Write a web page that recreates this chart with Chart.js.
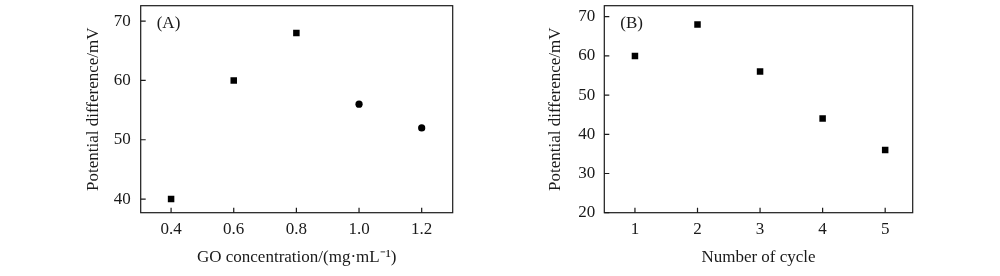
<!DOCTYPE html>
<html><head><meta charset="utf-8">
<script src="https://cdn.jsdelivr.net/npm/chart.js@4/dist/chart.umd.min.js"></script>
<style>
html,body{margin:0;padding:0;background:#fff;}
#wrap{position:relative;width:1000px;height:276px;}
.c{position:absolute;top:0;width:500px;height:276px;}
</style></head><body>
<div id="wrap">
<div class="c" style="left:0"><canvas id="ca"></canvas></div>
<div class="c" style="left:500px"><canvas id="cb"></canvas></div>
</div>
<script>
const concA = [0.4, 0.6, 0.8, 1.0, 1.2];
const valuesA = [40, 60, 68, 56, 52];
const stylesA = ['rect','rect','rect','circle','circle'];
const xTicksA = [0.4, 0.6, 0.8, 1.0, 1.2];
const yTicksA = [40, 50, 60, 70];

const cycleB = [1, 2, 3, 4, 5];
const valuesB = [60, 68, 56, 44, 36];
const xTicksB = [1, 2, 3, 4, 5];
const yTicksB = [20, 30, 40, 50, 60, 70];

const FONT = 'Liberation Serif, "Times New Roman", serif';
const INK = '#1a1a1a';

const framePlugin = {
  id: 'frame',
  afterDraw(chart, args, opts) {
    const {ctx, chartArea: a} = chart;
    ctx.save();
    ctx.strokeStyle = INK;
    ctx.lineWidth = 1.2;
    ctx.strokeRect(a.left, a.top, a.right - a.left, a.bottom - a.top);
    const L = 5;
    ctx.beginPath();
    chart.scales.x.ticks.forEach(t => {
      const px = chart.scales.x.getPixelForValue(t.value);
      ctx.moveTo(px, a.bottom); ctx.lineTo(px, a.bottom - L);
    });
    chart.scales.y.ticks.forEach(t => {
      const py = chart.scales.y.getPixelForValue(t.value);
      ctx.moveTo(a.left, py); ctx.lineTo(a.left + L, py);
    });
    ctx.stroke();
    if (opts.label) {
      ctx.fillStyle = INK;
      ctx.font = '17px ' + FONT;
      ctx.textBaseline = 'middle';
      ctx.textAlign = 'left';
      ctx.fillText(opts.label, a.left + opts.lx, a.top + opts.ly);
    }
    ctx.restore();
  }
};

function makeChart(id, xs, ys, styles, xTicks, yTicks, xmin, xmax, ymin, ymax, xTitle, label, geom, xfmt) {
  return new Chart(document.getElementById(id), {
    type: 'scatter',
    data: { datasets: [{
      data: xs.map((x, i) => ({x: x, y: ys[i]})),
      pointStyle: styles,
      pointRadius: styles.map(s => s === 'rect' ? 4.6 : 3.6),
      pointHoverRadius: styles.map(s => s === 'rect' ? 4.6 : 3.6),
      backgroundColor: '#000',
      borderColor: '#000',
      borderWidth: 0
    }]},
    plugins: [framePlugin],
    options: {
      responsive: false,
      animation: false,
      devicePixelRatio: 1,
      layout: { padding: { left: geom.padL, right: geom.padR, top: geom.padT, bottom: 0 } },
      plugins: { legend: {display: false}, tooltip: {enabled: false},
        frame: { label: label, lx: geom.lx, ly: geom.ly } },
      scales: {
        x: {
          type: 'linear', min: xmin, max: xmax,
          afterBuildTicks: s => { s.ticks = xTicks.map(v => ({value: v})); },
          afterFit: s => { s.height = geom.xh; s.paddingLeft = 0; s.paddingRight = 0; s.paddingTop = 0; s.paddingBottom = 0; },
          grid: { drawOnChartArea: false, drawTicks: false },
          border: { display: false },
          ticks: { color: INK, padding: 7, font: { family: FONT, size: 17 },
                   callback: v => xfmt(v), maxRotation: 0, autoSkip: false },
          title: { display: true, text: xTitle, color: INK,
                   font: { family: FONT, size: 17 }, padding: { top: 0, bottom: 8 } }
        },
        y: {
          type: 'linear', min: ymin, max: ymax,
          afterBuildTicks: s => { s.ticks = yTicks.map(v => ({value: v})); },
          afterFit: s => { s.width = geom.yw; s.paddingLeft = 0; s.paddingRight = 0; s.paddingTop = 0; s.paddingBottom = 0; },
          grid: { drawOnChartArea: false, drawTicks: false },
          border: { display: false },
          ticks: { color: INK, padding: geom.ytp, font: { family: FONT, size: 17 } },
          title: { display: true, text: 'Potential difference/mV', color: INK,
                   font: { family: FONT, size: 17 }, padding: { top: 3, bottom: 0 } }
        }
      }
    }
  });
}

const ca = document.getElementById('ca'); ca.width = 500; ca.height = 276;
const cb = document.getElementById('cb'); cb.width = 500; cb.height = 276;

makeChart('ca', concA, valuesA, stylesA, xTicksA, yTicksA, 0.303, 1.299, 37.7, 72.6,
  'GO concentration/(mg\u00B7mL\u207B\u00B9)', '(A)',
  { padL: 80, padR: 47.3, padT: 5.7, xh: 63.3, yw: 60.7, ytp: 10, lx: 16, ly: 18 },
  v => v.toFixed(1));

makeChart('cb', cycleB, valuesB, cycleB.map(() => 'rect'), xTicksB, yTicksB, 0.51, 5.44, 20, 72.8,
  'Number of cycle', '(B)',
  { padL: 42, padR: 87.3, padT: 5.7, xh: 63.3, yw: 62.3, ytp: 9, lx: 16, ly: 18 },
  v => String(v));
</script>
</body></html>
